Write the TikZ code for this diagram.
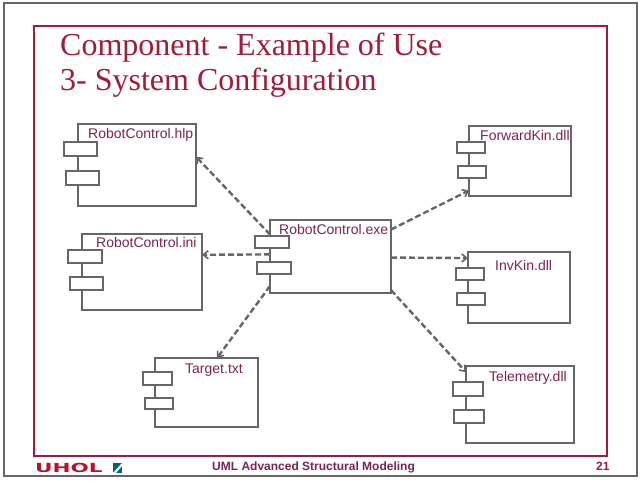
\documentclass[tikz,border=0pt]{standalone}
\usepackage{fontspec}
\setmainfont{Liberation Sans}
\newfontfamily\serifface{Liberation Serif}
\newfontfamily\logoface[UprightFont=* Bold,FakeStretch=1.72]{DejaVu Sans}
\usetikzlibrary{arrows.meta}
\definecolor{slidegray}{HTML}{666666}
\definecolor{slidered}{HTML}{A01C3C}
\definecolor{labelred}{HTML}{7A2450}
\definecolor{logored}{HTML}{B8102E}
\tikzset{
  x=1pt,y=-1pt,
  comp/.style={draw=slidegray,line width=2.4pt,fill=white,inner sep=0pt,outer sep=0pt},
  port/.style={draw=slidegray,line width=2.4pt,fill=white,inner sep=0pt,outer sep=0pt},
  dep/.style={draw=slidegray,line width=2.4pt,dash pattern=on 6pt off 3pt,-{Straight Barb[length=5pt,width=8pt,line width=1.6pt]}},
  lab/.style={anchor=west,inner sep=0pt,text=labelred,font=\fontsize{14}{16}\selectfont},
  title/.style={anchor=base west,inner sep=0pt,text=slidered,font=\serifface\fontsize{32}{36}\selectfont},
  foot/.style={anchor=west,inner sep=0pt,text=labelred,font=\bfseries\fontsize{12}{14}\selectfont},
}
\newcommand{\boxat}[7][comp]{%
  \node[#1,minimum width=#5pt-#3pt,minimum height=#6pt-#4pt] (#2) at ({(#3+#5)/2},{(#4+#6)/2}) {};}
\begin{document}
\begin{tikzpicture}
\useasboundingbox (0,0) rectangle (640,480);
\fill[white] (0,0) rectangle (640,480);
\node[draw=slidegray,line width=2.4pt,inner sep=0pt,outer sep=0pt,minimum width=633pt,minimum height=473pt] (outer) at (320.5,239.5) {};
\node[draw=slidered,line width=2.4pt,inner sep=0pt,outer sep=0pt,minimum width=573pt,minimum height=430pt] (inner) at (320.5,241) {};
\node[title] (t1) at (60,55) {Component - Example of Use};
\node[title] (t2) at (60,90) {3- System Configuration};

\boxat{hlp}{78}{124}{196}{206}{}
\boxat[port]{hlpa}{64}{142}{97}{156}{}
\boxat[port]{hlpb}{66}{171}{99}{185}{}
\boxat{ini}{82}{234}{202}{310}{}
\boxat[port]{inia}{68}{250}{102}{263}{}
\boxat[port]{inib}{70}{277}{103}{290}{}
\boxat{exe}{270}{220}{391}{293}{}
\boxat[port]{exea}{255}{236}{289}{248}{}
\boxat[port]{exeb}{257}{262}{291}{274}{}
\boxat{fwd}{469}{126}{571}{196}{}
\boxat[port]{fwda}{457}{142}{485}{153}{}
\boxat[port]{fwdb}{458}{166}{486}{178}{}
\boxat{inv}{468}{252}{570}{323}{}
\boxat[port]{inva}{456}{268}{484}{280}{}
\boxat[port]{invb}{457}{293}{485}{305}{}
\boxat{tel}{466}{366}{574}{443}{}
\boxat[port]{tela}{453}{382}{483}{396}{}
\boxat[port]{telb}{454}{410}{484}{423}{}
\boxat{tgt}{155}{358}{258}{427}{}
\boxat[port]{tgta}{143}{372}{172}{385}{}
\boxat[port]{tgtb}{145}{398}{173}{409}{}

\draw[dep] (exe.160) -- (hlp.8.5);
\draw[dep] (exe.178) -- (ini.16.7);
\draw[dep] (exe.206) -- (tgt.73);
\draw[dep] (exe.24.4) -- (fwd.210.5);
\draw[dep] (exe.-1.4) -- (inv.150);
\draw[dep] (exe.-29.7) -- (tel.149);

\node[lab] (lhlp) at (88,135) {RobotControl.hlp};
\node[lab] (lini) at (96,242) {RobotControl.ini};
\node[lab] (lexe) at (279,229) {RobotControl.exe};
\node[lab] (lfwd) at (480,135) {ForwardKin.dll};
\node[lab] (linv) at (495,265) {InvKin.dll};
\node[lab] (ltel) at (489,378) {Telemetry.dll};
\node[lab] (ltgt) at (185,370.5) {Target.txt};

\node[foot] (ffoot) at (212,467) {UML Advanced Structural Modeling};
\node[foot,text=slidered] (fnum) at (596,466) {21};
\node[anchor=west,inner sep=0pt,text=logored,font=\logoface\fontsize{12.5}{14}\selectfont] (logo) at (35,467.5) {UHOL};
\fill[teal!80!black] (113,463) rectangle (122,473);
\fill[white] (113,473) -- (122,463) -- (122,466) -- (116,473) -- cycle;
\end{tikzpicture}
\end{document}
